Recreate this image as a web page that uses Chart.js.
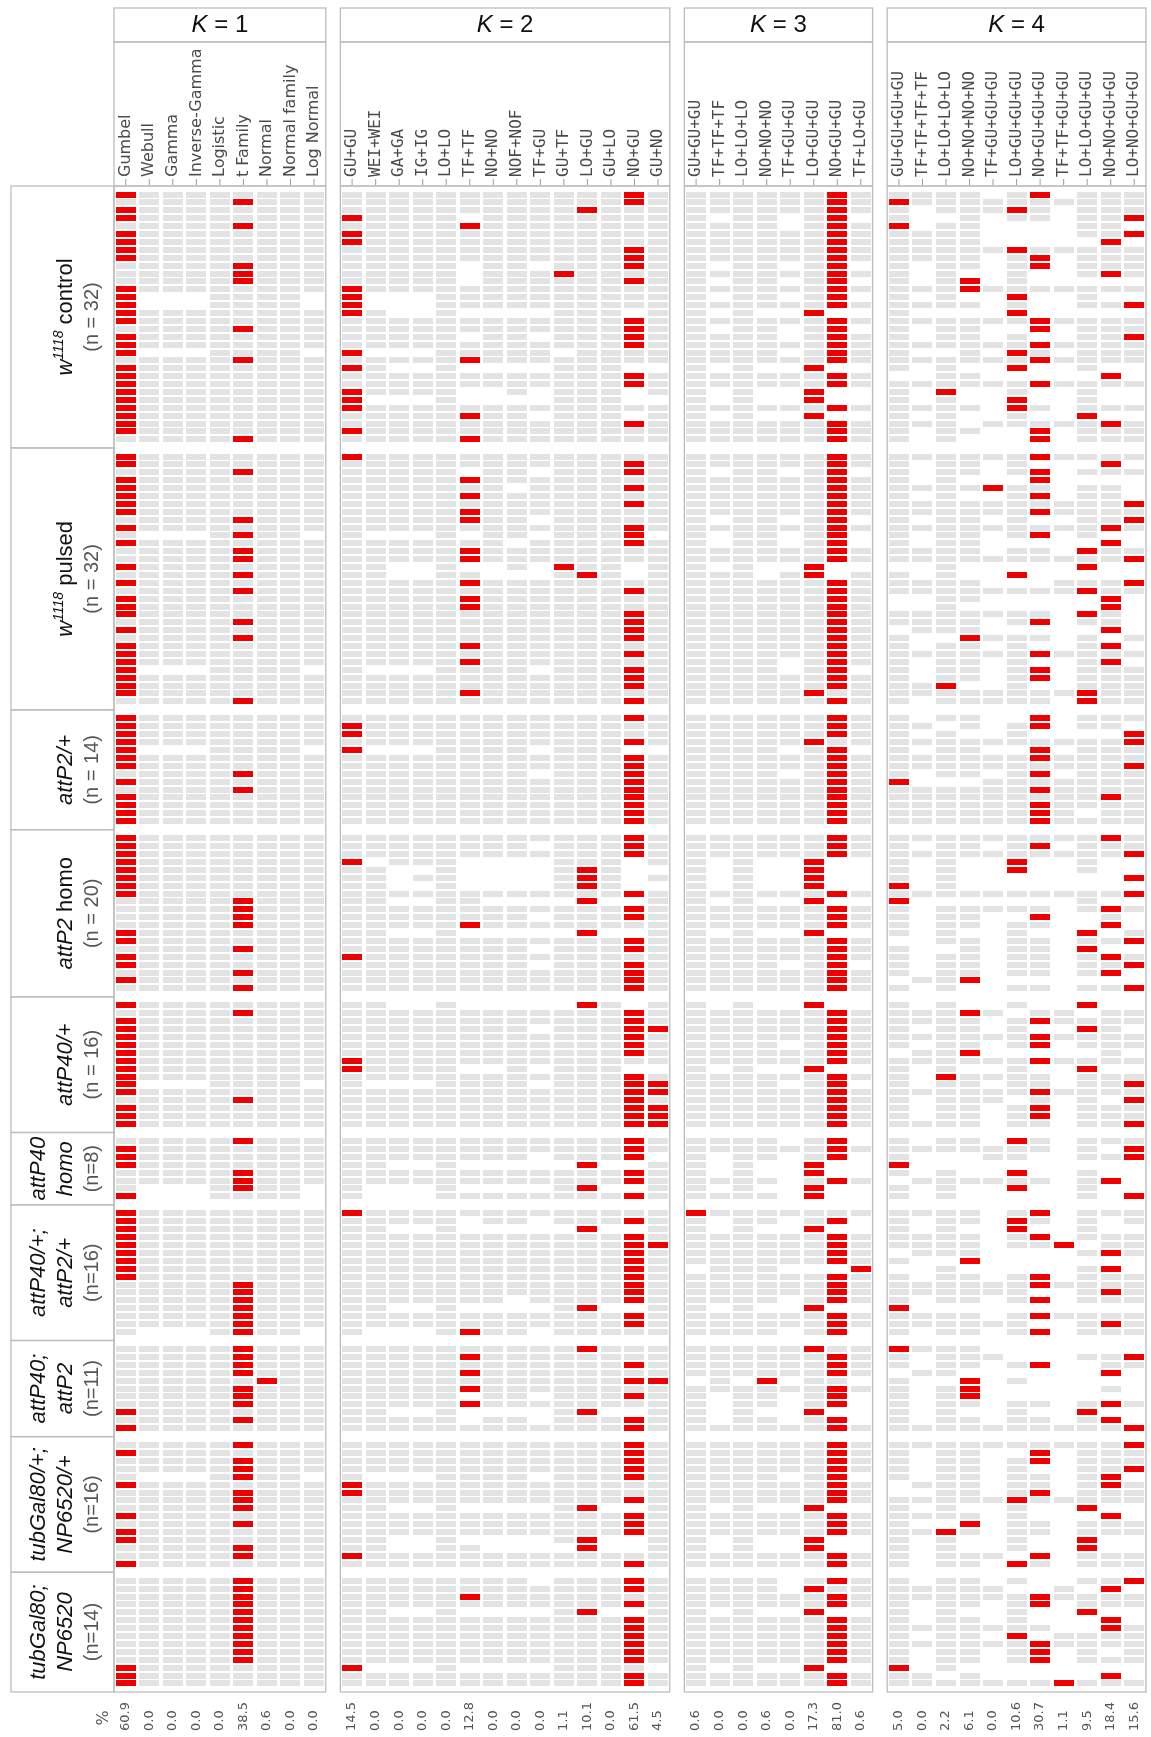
<!DOCTYPE html>
<html>
<head>
<meta charset="utf-8">
<script src="https://cdn.jsdelivr.net/npm/chart.js@4.4.1/dist/chart.umd.min.js"></script>
<style>
  html, body { margin: 0; padding: 0; background: #fff; }
  #wrap { width: 1151px; height: 1737px; }
</style>
</head>
<body>
<div id="wrap"><canvas id="Fit_Chart" width="1151" height="1737"></canvas></div>
<script>
// ----------------------------
// DATA
// ----------------------------
const groupSizes = [32, 32, 14, 20, 16, 8, 16, 11, 16, 14];

const k1Labels = ['Gumbel', 'Webull', 'Gamma', 'Inverse-Gamma', 'Logistic', 't Family', 'Normal', 'Normal family', 'Log Normal'];
const k2Labels = ['GU+GU', 'WEI+WEI', 'GA+GA', 'IG+IG', 'LO+LO', 'TF+TF', 'NO+NO', 'NOF+NOF', 'TF+GU', 'GU+TF', 'LO+GU', 'GU+LO', 'NO+GU', 'GU+NO'];
const k3Labels = ['GU+GU+GU', 'TF+TF+TF', 'LO+LO+LO', 'NO+NO+NO', 'TF+GU+GU', 'LO+GU+GU', 'NO+GU+GU', 'TF+LO+GU'];
const k4Labels = ['GU+GU+GU+GU', 'TF+TF+TF+TF', 'LO+LO+LO+LO', 'NO+NO+NO+NO', 'TF+GU+GU+GU', 'LO+GU+GU+GU', 'NO+GU+GU+GU', 'TF+TF+GU+GU', 'LO+LO+GU+GU', 'NO+NO+GU+GU', 'LO+NO+GU+GU'];

const k1Pct = [60.9, 0.0, 0.0, 0.0, 0.0, 38.5, 0.6, 0.0, 0.0];
const k2Pct = [14.5, 0.0, 0.0, 0.0, 0.0, 12.8, 0.0, 0.0, 0.0, 1.1, 10.1, 0.0, 61.5, 4.5];
const k3Pct = [0.6, 0.0, 0.0, 0.6, 0.0, 17.3, 81.0, 0.6];
const k4Pct = [5.0, 0.0, 2.2, 6.1, 0.0, 10.6, 30.7, 1.1, 9.5, 18.4, 15.6];

// one string per fly: x = best model, o = fitted, . = not fitted
const k1Cells = [
  // w1118 control
  'xoooooooo','oooooxooo','xoooooooo','xoooooooo','oooooxooo','xoooooooo','xoooooooo','xoooooooo',
  'xoooooooo','oooooxooo','oooooxooo','oooooxooo','xoooooooo','x...oooo.','x...oooo.','xoooooooo',
  'xoooooooo','oooooxooo','xoooooooo','xoooooooo','x...oooo.','oooooxooo','xoooooooo','xoooooooo',
  'xoooooooo','xoooooooo','xoooooooo','xoooooooo','xoooooooo','xoooooooo','xoooooooo','oooooxooo',
  // w1118 pulsed
  'xoooooooo','xoooooooo','oooooxooo','xoooooooo','xoooooooo','xoooooooo','xoooooooo','xoooooooo',
  'oooooxooo','xoooooooo','o...oxoo.','xoooooooo','oooooxooo','oooooxooo','xoooooooo','oooooxooo',
  'xoooooooo','oooooxooo','xoooooooo','xoooooooo','xoooooooo','oooooxooo','xoooooooo','oooooxooo',
  'xoooooooo','xoooooooo','xoooooooo','x...oooo.','xoooooooo','xoooooooo','xoooooooo','oooooxooo',
  // attP2/+
  'xoooooooo','xoooooooo','xoooooooo','xoooooooo','x...oooo.','xoooooooo','xoooooooo','oooooxooo',
  'xoooooooo','oooooxooo','xoooooooo','xoooooooo','xoooooooo','xoooooooo',
  // attP2 homo
  'xoooooooo','xoooooooo','xoooooooo','xoooooooo','xoooooooo','xoooooooo','xoooooooo','xoooooooo',
  'oooooxooo','oooooxooo','oooooxooo','oooooxooo','xoooooooo','xoooooooo','oooooxooo','xoooooooo',
  'xoooooooo','oooooxooo','xoooooooo','oooooxooo',
  // attP40/+
  'xoooooooo','oooooxooo','xoooooooo','xoooooooo','xoooooooo','xoooooooo','xoooooooo','xoooooooo',
  'xoooooooo','xoooooooo','x...oooo.','xoooooooo','oooooxooo','xoooooooo','xoooooooo','xoooooooo',
  // attP40 homo
  'oooooxooo','xoooooooo','xoooooooo','xoooooooo','oooooxooo','oooooxooo','o...oxoo.','x...oooo.',
  // attP40/+; attP2/+
  'xoooooooo','xoooooooo','xoooooooo','xoooooooo','xoooooooo','xoooooooo','xoooooooo','xoooooooo',
  'xoooooooo','oooooxooo','oooooxooo','oooooxooo','oooooxooo','oooooxooo','oooooxooo','o...oxoo.',
  // attP40; attP2
  'oooooxooo','oooooxooo','oooooxooo','oooooxooo','ooooooxoo','oooooxooo','oooooxooo','oooooxooo',
  'xoooooooo','oooooxooo','xoooooooo',
  // tubGal80/+; NP6520/+
  'oooooxooo','xoooooooo','oooooxooo','oooooxooo','o...oxoo.','xoooooooo','oooooxooo','oooooxooo',
  'oooooxooo','xoooooooo','oooooxooo','xoooooooo','xoooooooo','oooooxooo','oooooxooo','xoooooooo',
  // tubGal80; NP6520
  'oooooxooo','oooooxooo','oooooxooo','oooooxooo','oooooxooo','oooooxooo','oooooxooo','oooooxooo',
  'oooooxooo','oooooxooo','oooooxooo','xoooooooo','xoooooooo','xoooooooo'
];

const k2Cells = [
  // w1118 control
  'ooooooooooooxo','ooooooooooooxo','ooooooooooxooo','xoooo.oooooooo','oooooxoooooooo','xooooooooooooo',
  'xooooooooooooo','ooooooooooooxo','ooooooooooooxo','ooooo.oo.oooxo','ooooo.oooxoooo','ooooo.ooooooxo',
  'xooooooooooooo','x...oooooooooo','x...oooooooooo','xo..o....ooo.o','ooooooooooooxo','ooooooooooooxo',
  'ooooo.oo.oooxo','ooooooooooooxo','x...ooooo.oooo','oooooxoooooooo','xo..o....ooo..','ooooooooooooxo',
  'ooooooooooooxo','xoooo..o.ooo.o','x...o....ooo..','xooooooooooooo','oooooxoo.ooo.o','ooooooooooooxo',
  'xooooooooooooo','oooooxoooooooo',
  // w1118 pulsed
  'xooooooooooooo','ooooooooooooxo','ooooo.oo.oooxo','oooooxoooooooo','ooooooo.ooooxo','oooooxoooooooo',
  'ooooooooooooxo','oooooxoooooooo','oooooxoo.ooooo','ooooooooooooxo','o...o.oo.ooox.','ooooooo.ooooxo',
  'oooooxoooooooo','oooooxoooooooo','oo..o..o.xoo.o','oo..oo...oxo.o','oooooxoooooooo','ooooooooooooxo',
  'oooooxoooooooo','oooooxoooooooo','ooooooooooooxo','ooooooooooooxo','ooooooooooooxo','ooooooooooooxo',
  'oooooxoooooooo','ooooooooooooxo','oooooxoooooooo','o...oooo.oooxo','ooooooooooooxo','ooooooooooooxo',
  'oooooxoooooooo','ooooooooooooxo',
  // attP2/+
  'ooooooooooooxo','xooooooooooooo','xooooooooooooo','ooooooooooooxo','x...oooo.ooo..','ooooooooooooxo',
  'ooooooooooooxo','oooooooo.oooxo','ooooooooooooxo','ooooooooooooxo','ooooooooooooxo','ooooooooooooxo',
  'ooooooooooooxo','ooooooooooooxo',
  // attP2 homo
  'ooooooooooooxo','oooooooo.oooxo','ooooooooooooxo','x.ooo....ooo.o','oo..o....oxo..','oo.oo....oxo.o',
  'oo..o....oxo..','ooooooooooooxo','oo..oo....x..o','ooooooooooooxo','oooooooo.oooxo','oooooxoooooooo',
  'oo..o.....x..o','ooooooooooooxo','oooooooo.oooxo','xooooooooooooo','oooooooo.oooxo','ooooooooooooxo',
  'ooooooooooooxo','ooooooooooooxo',
  // attP40/+
  'oo..o.....xo.o','ooooooooooooxo','ooooooooooooxo','oooooooo.oooxx','ooooooooooooxo','ooooooooooooxo',
  'ooooooooooooxo','xooooooooooooo','xoooo..o.ooo..','ooooooooooooxo','o...oooo.oooxx','ooooooooooooxx',
  'ooooooooooooxo','ooooooooooooxx','ooooooooooooxx','ooooooooooooxx',
  // attP40 homo
  'ooooooooooooxo','ooooooooooooxo','oooooooo.ooox.','oo..o.....x..o','ooooooooooooxo','ooooooooooooxo',
  'o...o....ox..o','o...ooooooooxo',
  // attP40/+; attP2/+
  'xooooooooooooo','ooooo.oo.oooxo','oo..o.....x..o','ooooooooooooxo','ooooooooooooxx','ooooooooooooxo',
  'ooooooooooooxo','ooooooooooooxo','ooooooooooooxo','ooooooooooooxo','ooooooooooooxo','ooooooo.ooooxo',
  'oo..o....ox..o','ooooooooooooxo','ooooooooooooxo','o...oxoo.ooooo',
  // attP40; attP2
  'ooooooooooxooo','oooooxoooooooo','ooooooooooooxo','oooooxoooooooo','ooooooooooooxx','oooooxoooooooo',
  'ooooo.oo.oooxo','oooooxoooooooo','oo..o....ox..o','ooooo.oo.oooxo','ooooooooooooxo',
  // tubGal80/+; NP6520/+
  'ooooooooooooxo','ooooooooooooxo','ooooooooooooxo','ooooooooooooxo','o...oooo.oooxo','xooooooooooooo',
  'xooooooooooooo','ooooooooooooxo','oo..o....ox..o','ooooooooooooxo','ooooooooooooxo','ooooooooooooxo',
  'oo..o....ox..o','oo..oo....x..o','xooooooooooooo','ooooooooooooxo',
  // tubGal80; NP6520
  'oooooooo.oooxo','ooooooooooooxo','oooooxoooooooo','ooooooooooooxo','oo..o....ox..o','ooooooooooooxo',
  'ooooooooooooxo','ooooooooooooxo','ooooooooooooxo','ooooooooooooxo','ooooooooooooxo','x...o....oooo.',
  'ooooooooooooxo','ooooooooooooxo'
];

const k3Cells = [
  // w1118 control
  'ooooooxo','ooooooxo','ooooooxo','o.oo.ox.','oooo.oxo','ooooooxo','ooooooxo','ooooooxo',
  'ooooooxo','o.oo.ox.','ooooooxo','o.oo.ox.','ooooooxo','o.oo.ox.','ooooooxo','o.o..x..',
  'ooooooxo','o.oo.ox.','oooo.oxo','ooooooxo','oooo.oxo','ooooooxo','o.o..x..','ooooooxo',
  'ooooooxo','o.o..x..','o.o..x..','ooooooxo','o.o..x..','ooooooxo','ooooooxo','ooooooxo',
  // w1118 pulsed
  'ooooooxo','ooooooxo','o.oo.ox.','ooooooxo','ooooooxo','ooooooxo','ooooooxo','ooooooxo',
  'o.oo.ox.','ooooooxo','o.oo.ox.','o.oo.ox.','ooooooxo','ooooooxo','o.o..x..','ooo.ox.o',
  'ooooooxo','ooooooxo','ooooooxo','ooooooxo','ooooooxo','ooooooxo','ooooooxo','ooooooxo',
  'ooooooxo','ooooooxo','oooo.oxo','oooo.ox.','ooooooxo','ooooooxo','oooooxoo','ooooooxo',
  // attP2/+
  'ooooooxo','ooooooxo','ooooooxo','oooooxoo','oooo.ox.','ooooooxo','ooooooxo','oooo.oxo',
  'ooooooxo','ooooooxo','ooooooxo','ooooooxo','ooooooxo','ooooooxo',
  // attP2 homo
  'ooooooxo','ooooooxo','ooooooxo','o.o..x..','o.o..x..','o.o..x..','o.o..x..','ooooooxo',
  'o.o..x..','ooooooxo','ooooooxo','ooooooxo','o.o..x..','ooooooxo','ooooooxo','ooooooxo',
  'oooo.ox.','ooooooxo','ooooooxo','ooooooxo',
  // attP40/+
  'o.o..x..','ooooooxo','ooooooxo','ooooooxo','ooooooxo','oooo.oxo','ooooooxo','ooooooxo',
  'o.o..x..','ooooooxo','oooo.ox.','ooooooxo','ooooooxo','ooooooxo','ooooooxo','ooooooxo',
  // attP40 homo
  'oooo.ox.','ooooooxo','o.oo.ox.','o.o..x..','o.o..x..','oooo.oxo','o.o..x..','oooo.x..',
  // attP40/+; attP2/+
  'xooooooo','o.oo.ox.','o.o..x..','ooooooxo','ooooooxo','ooooooxo','ooooooxo','.ooo...x',
  'ooooooxo','ooooooxo','ooooooxo','oooo.oxo','o.o..x..','ooooooxo','ooooooxo','oooo.ox.',
  // attP40; attP2
  'oooooxoo','ooooooxo','ooooooxo','ooooooxo','.o.x.oo.','ooooooxo','o.oo.ox.','o.oo.ox.',
  'o.o..x..','o.oo.ox.','ooooooxo',
  // tubGal80/+; NP6520/+
  'ooooooxo','ooooooxo','ooooooxo','ooooooxo','oooo.ox.','ooooooxo','ooooooxo','ooooooxo',
  'o.o..x..','ooooooxo','ooooooxo','ooooooxo','o.o..x..','o.o..x..','ooooooxo','ooooooxo',
  // tubGal80; NP6520
  'oooo.oxo','oooo.xoo','ooooooxo','ooooooxo','o.o..x..','ooooooxo','ooooooxo','ooooooxo',
  'ooooooxo','ooooooxo','ooooooxo','o.o..x..','ooooooxo','ooooooxo'
];

const k4Cells = [
  // w1118 control
  'oooo.ox.ooo','xoooooooooo','o.oooxo.ooo','o..o.oo.oox','x.oo....oo.','oooo....oox','oooo.....x.','oooooxooooo',
  'oooo.ox.ooo','o.oo.ox.ooo','o.o..o..oxo','o.ox.o.....','oooxooooooo','o.o..x..o..','oooo.o..oox','o....x.....',
  'ooooooxoooo','o.oo..x.ooo','o.oo.o..oox','ooooooxoooo','o..o.xo.ooo','ooooooxoooo','o.o..x..o..','..oo.....x.',
  'ooooooxoooo','o.x..o..o..','o.o..x..o..','oooo.xo.ooo','o.o..o..x..','ooo.oooooxo','o.oo..x.ooo','o.o...x.ooo',
  // w1118 pulsed
  'ooooooxoooo','o.oo.o...x.','o.oo.ox.ooo','o.o...x....','ooooxoo.oo.','o.o..ox.oo.','oooooooooox','ooooooxoooo',
  'o.oo.o..oox','oooooooooxo','o.oo.ox.o..','o.oo.....x.','oooo.oo.xoo','oooooooooox','..o.....x..','o.o..x.....',
  'oooo...ooox','ooooooooxoo','..oo.....x.','..o......x.','ooooooo.xo.','oooo.ox.oo.','.ooo.....x.','o..xooo.o.o',
  'o.oo.o..ox.','ooooooxoooo','o.oo.o..ox.','o.oo.ox.ooo','o.oo.ox.ooo','oox..o..ooo','ooooooooxoo','o.ooooo.xoo',
  // attP2/+
  'o.oo..x.ooo','oo.o.ox.oo.','o.o..o....x','oooooooooox','o.oo..x.ooo','ooooooxoooo','oooooooooox','o.oo.ox.ooo',
  'x...ooooooo','ooooooxoooo','oooooooooxo','ooooooxoooo','ooooooxo.oo','ooooooxoooo',
  // attP2 homo
  'oooooooooxo','o.oo.ox.ooo','oooooooooox','o.o..x..o..','o.o..x..o..','o.o.......x','x.o........','oooooooooox',
  'x.......o..','o.ooooo.oxo','o.oo..x..o.','o.oo.oo..x.','o.o..o..x.o','..oo.oo.oox','o..o.oo.x..','o.oo.oo.oxo',
  'o.oo.oo.oox','o.oo.oo.ox.','.oox.......','o.o..oo.oox',
  // attP40/+
  'o.o..o..x..','oooxo.oo.oo','oooo.oxoooo','o.oo.o..xo.','ooooooxoooo','o.oo.ox.ooo','.oox.....o.','ooooooxoooo',
  'o.o..o..x..','o.xoooo.ooo','o.oo.oo.oox','ooooooxoooo','o.ooo.o.o.x','o.oo.ox.ooo','o.oo.ox.ooo','oooo.oo.oox',
  // attP40 homo
  'o.oo.xo.ooo','ooooooo.o.x','o...oo..oox','x..........','o.o..x..o..','.oooooo.ox.','o.o..x..o..','o.o.....o.x',
  // attP40/+; attP2/+
  'oooo.ox.ooo','o.oo.xo.o.o','o.o..x..o..','oooo.ox.ooo','oooo.oox.oo','.ooo....oxo','o..x.......','..o.....ox.',
  'o.oo.ox.ooo','ooooooxoooo','oooooo..oxo','o.oo.ox.ooo','x..........','oooo.oxoooo','oooooo..oxo','o.oo.ox.ooo',
  // attP40; attP2
  'xooo.......','o.ooo...oox','o.oo.ox..oo','.oo......x.','o..x.o.....','o.ox.....o.','o.ox.......','o.oo.oo.oxo',
  'o.o..o..x..','o.oo.oo.ox.','oooooooooox',
  // tubGal80/+; NP6520/+
  'oooooooooox','o.oo..x.ooo','o.oo.ox.ooo','o.oo.o..oox','o.oo.oo.ox.','.ooo.oo.oxo','..oo.ox.ooo','oooooxooooo',
  'o.o..o..x..','oooo.o...x.','o..x.oo.ooo','ooxo.oo.ooo','o.o..o..x..','o.o..o..x..','o.ooo.x.ooo','o.oo.xo.ooo',
  // tubGal80; NP6520
  'o.oo.o..oox','ooooo..o.x.','ooooooxoooo','o.oo.ox.ooo','o.o..o..x..','o.oo.o...x.','ooooooo..xo','o.oo.x.oooo',
  'ooooooxoooo','o.oo.ox.o.o','o.oo.ox.ooo','x.o........','oo.o.....x.','oooooooxooo'
];

// ----------------------------
// LAYOUT
// ----------------------------
const GROUP_GAP = 1.17;      // empty rows between two genotypes
const PANEL_GAP = 0.62;      // empty columns between two K panels

const panels = [
  { k: '1', labels: k1Labels, pct: k1Pct, cells: k1Cells, mono: false },
  { k: '2', labels: k2Labels, pct: k2Pct, cells: k2Cells, mono: true },
  { k: '3', labels: k3Labels, pct: k3Pct, cells: k3Cells, mono: true },
  { k: '4', labels: k4Labels, pct: k4Pct, cells: k4Cells, mono: true }
];
let colPos = 0;
panels.forEach(p => {
  p.offset = colPos;
  colPos += p.labels.length + PANEL_GAP;
});
const xMax = colPos - PANEL_GAP;

const rowY = [];
const groupSpans = [];
let rowPos = 0;
groupSizes.forEach(n => {
  const start = rowPos;
  for (let i = 0; i < n; i++) rowY.push(start + GROUP_GAP / 2 + i + 0.5);
  rowPos += n + GROUP_GAP;
  groupSpans.push([start, rowPos]);
});
const yMax = rowPos;

function cellImage(color, w, h) {
  const c = document.createElement('canvas');
  c.width = w;
  c.height = h;
  const g = c.getContext('2d');
  g.fillStyle = color;
  g.fillRect(0, 0, w, h);
  return c;
}
const grayCell = cellImage('#e3e3e3', 20, 6);
const redCell = cellImage('#ee0000', 20, 6);

const grayPoints = [];
const redPoints = [];
panels.forEach(p => {
  p.cells.forEach((row, r) => {
    for (let c = 0; c < row.length; c++) {
      const pt = { x: p.offset + c + 0.5, y: rowY[r] };
      if (row[c] === 'o') grayPoints.push(pt);
      else if (row[c] === 'x') redPoints.push(pt);
    }
  });
});

// strip text: i = italic, n = normal, s = superscript, g = grey sample size
const stripLines = [
  [[['w', 'i'], ['1118', 's'], [' control', 'n']], [['(n = 32)', 'g']]],
  [[['w', 'i'], ['1118', 's'], [' pulsed', 'n']], [['(n = 32)', 'g']]],
  [[['attP2/+', 'i']], [['(n = 14)', 'g']]],
  [[['attP2', 'i'], [' homo', 'n']], [['(n = 20)', 'g']]],
  [[['attP40/+', 'i']], [['(n = 16)', 'g']]],
  [[['attP40', 'i']], [['homo', 'i']], [['(n=8)', 'g']]],
  [[['attP40/+;', 'i']], [['attP2/+', 'i']], [['(n=16)', 'g']]],
  [[['attP40;', 'i']], [['attP2', 'i']], [['(n=11)', 'g']]],
  [[['tubGal80/+;', 'i']], [['NP6520/+', 'i']], [['(n=16)', 'g']]],
  [[['tubGal80;', 'i']], [['NP6520', 'i']], [['(n=14)', 'g']]]
];

const runFonts = {
  i: 'italic 22px "Liberation Sans"',
  n: '22px "Liberation Sans"',
  s: 'italic 14px "Liberation Sans"',
  g: '20px "Liberation Sans"',
  hk: 'italic 24px "Liberation Sans"',
  hn: '24px "Liberation Sans"'
};

function drawRuns(ctx, runs, cx, cy, rotate) {
  let total = 0;
  runs.forEach(r => { ctx.font = runFonts[r[1]]; total += ctx.measureText(r[0]).width; });
  ctx.save();
  ctx.translate(cx, cy);
  if (rotate) ctx.rotate(-Math.PI / 2);
  ctx.textAlign = 'left';
  ctx.textBaseline = 'middle';
  let x = -total / 2;
  runs.forEach(r => {
    ctx.font = runFonts[r[1]];
    ctx.fillStyle = r[1] === 'g' ? '#555555' : '#111111';
    ctx.fillText(r[0], x, r[1] === 's' ? -7 : 0);
    x += ctx.measureText(r[0]).width;
  });
  ctx.restore();
}

const framePlugin = {
  id: 'frames',
  afterDraw(chart) {
    const ctx = chart.ctx;
    const xs = chart.scales.x;
    const ys = chart.scales.y;
    const area = chart.chartArea;
    ctx.save();

    panels.forEach(p => {
      const l = xs.getPixelForValue(p.offset);
      const r = xs.getPixelForValue(p.offset + p.labels.length);
      ctx.strokeStyle = '#bdbdbd';
      ctx.lineWidth = 1.3;
      ctx.strokeRect(l, 8, r - l, 34);
      ctx.strokeRect(l, 42, r - l, area.top - 42);
      ctx.strokeRect(l, area.top, r - l, area.bottom - area.top);

      drawRuns(ctx, [['K', 'hk'], [' = ' + p.k, 'hn']], (l + r) / 2, 25, false);

      p.labels.forEach((lab, i) => {
        const x = xs.getPixelForValue(p.offset + i + 0.5);
        ctx.strokeStyle = '#9a9a9a';
        ctx.lineWidth = 1;
        ctx.beginPath();
        ctx.moveTo(x, area.top - 7);
        ctx.lineTo(x, area.top - 1);
        ctx.stroke();

        ctx.save();
        ctx.translate(x, area.top - 9);
        ctx.rotate(-Math.PI / 2);
        ctx.font = p.mono ? '16px "DejaVu Sans Mono"' : '16px "DejaVu Sans"';
        ctx.fillStyle = '#4a4a4a';
        ctx.textAlign = 'left';
        ctx.textBaseline = 'middle';
        ctx.fillText(lab, 0, 0);
        ctx.restore();

        ctx.save();
        ctx.translate(x, 1731);
        ctx.rotate(-Math.PI / 2);
        ctx.font = '13px "DejaVu Sans"';
        ctx.fillStyle = '#555555';
        ctx.textAlign = 'left';
        ctx.textBaseline = 'middle';
        ctx.fillText(p.pct[i].toFixed(1), 0, 0);
        ctx.restore();
      });
    });

    // genotype strips
    groupSpans.forEach((span, g) => {
      const y0 = ys.getPixelForValue(span[0]);
      const y1 = ys.getPixelForValue(span[1]);
      ctx.strokeStyle = '#bdbdbd';
      ctx.lineWidth = 1.3;
      ctx.strokeRect(11, y0, area.left - 11, y1 - y0);
      const lines = stripLines[g];
      const xsLine = lines.length === 2 ? [66, 92] : [39, 66, 92];
      lines.forEach((runs, li) => drawRuns(ctx, runs, xsLine[li], (y0 + y1) / 2, true));
    });

    ctx.save();
    ctx.translate(104, 1718);
    ctx.rotate(-Math.PI / 2);
    ctx.font = '16px "DejaVu Sans"';
    ctx.fillStyle = '#555555';
    ctx.textAlign = 'center';
    ctx.textBaseline = 'middle';
    ctx.fillText('%', 0, 0);
    ctx.restore();

    ctx.restore();
  }
};

const ctx = document.getElementById('Fit_Chart').getContext('2d');
new Chart(ctx, {
  type: 'scatter',
  data: {
    datasets: [
      { label: 'fitted', data: grayPoints, pointStyle: grayCell, pointRadius: 3 },
      { label: 'best', data: redPoints, pointStyle: redCell, pointRadius: 3 }
    ]
  },
  options: {
    responsive: false,
    animation: false,
    devicePixelRatio: 1,
    events: [],
    layout: { padding: { left: 114, right: 1, top: 186, bottom: 45 } },
    scales: {
      x: { type: 'linear', min: 0, max: xMax, display: false },
      y: { type: 'linear', min: 0, max: yMax, reverse: true, display: false }
    },
    plugins: {
      legend: { display: false },
      tooltip: { enabled: false }
    }
  },
  plugins: [framePlugin]
});
</script>
</body>
</html>
